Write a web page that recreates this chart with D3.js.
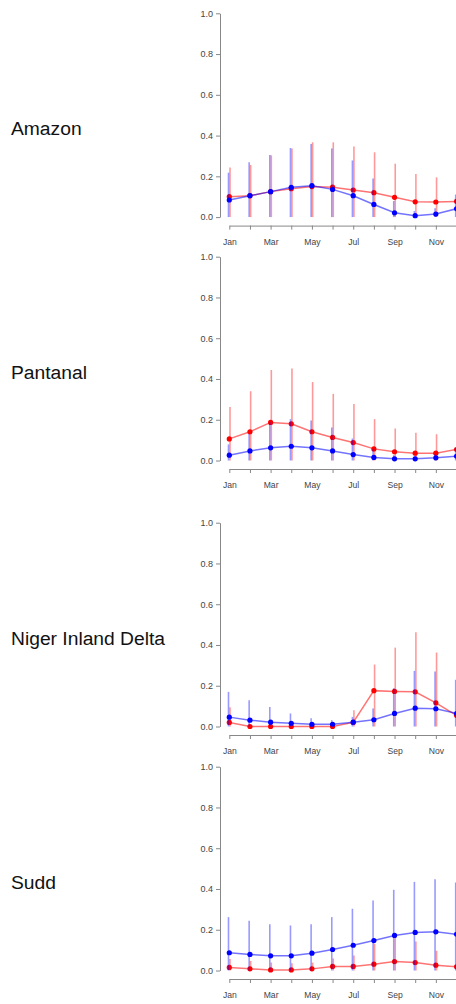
<!DOCTYPE html>
<html>
<head>
<meta charset="utf-8">
<script src="https://cdn.jsdelivr.net/npm/d3@7"></script>
<style>
  body { margin: 0; background: #fff; }
  svg { display: block; font-family: "Liberation Sans", Arial, sans-serif; }
</style>
</head>
<body>
<svg width="456" height="1004"></svg>
<script>
let months = ["Jan", "Feb", "Mar", "Apr", "May", "Jun", "Jul", "Aug", "Sep", "Oct", "Nov", "Dec"];
let monthLabels = ["Jan", "Mar", "May", "Jul", "Sep", "Nov"];
let yTicks = [0, 0.2, 0.4, 0.6, 0.8, 1.0];
let regions = ["Amazon", "Pantanal", "Niger Inland Delta", "Sudd"];

// red series: mean and upper end of the bar (bars start at 0)
let amazonRed = [0.100, 0.105, 0.125, 0.139, 0.150, 0.147, 0.133, 0.120, 0.097, 0.075, 0.074, 0.077];
let amazonRedHi = [0.243, 0.256, 0.303, 0.337, 0.367, 0.367, 0.346, 0.318, 0.262, 0.211, 0.195, 0.205];
let amazonBlue = [0.084, 0.105, 0.125, 0.146, 0.154, 0.136, 0.105, 0.062, 0.021, 0.007, 0.015, 0.041];
let amazonBlueHi = [0.218, 0.269, 0.305, 0.339, 0.359, 0.337, 0.278, 0.190, 0.079, 0.030, 0.043, 0.111];

let pantanalRed = [0.106, 0.141, 0.187, 0.180, 0.141, 0.113, 0.088, 0.057, 0.043, 0.036, 0.036, 0.054];
let pantanalRedHi = [0.263, 0.340, 0.444, 0.452, 0.385, 0.327, 0.277, 0.203, 0.157, 0.136, 0.129, 0.160];
let pantanalBlue = [0.026, 0.047, 0.062, 0.070, 0.062, 0.047, 0.029, 0.015, 0.008, 0.008, 0.013, 0.021];
let pantanalBlueHi = [0.079, 0.131, 0.190, 0.203, 0.196, 0.162, 0.108, 0.057, 0.026, 0.020, 0.031, 0.061];

let nigerRed = [0.020, 0.000, 0.000, 0.000, 0.000, 0.000, 0.020, 0.176, 0.172, 0.170, 0.116, 0.054];
let nigerRedHi = [0.095, 0.004, 0.004, 0.004, 0.004, 0.004, 0.080, 0.304, 0.387, 0.462, 0.363, 0.120];
let nigerBlue = [0.046, 0.031, 0.021, 0.016, 0.011, 0.011, 0.021, 0.033, 0.064, 0.090, 0.087, 0.064];
let nigerBlueHi = [0.170, 0.129, 0.096, 0.064, 0.041, 0.031, 0.047, 0.088, 0.188, 0.273, 0.270, 0.230];

let suddRed = [0.015, 0.008, 0.003, 0.003, 0.008, 0.020, 0.020, 0.031, 0.044, 0.039, 0.026, 0.018];
let suddRedHi = [0.057, 0.047, 0.039, 0.036, 0.039, 0.059, 0.074, 0.131, 0.160, 0.142, 0.097, 0.050];
let suddBlue = [0.087, 0.079, 0.072, 0.072, 0.085, 0.103, 0.124, 0.147, 0.172, 0.187, 0.190, 0.178];
let suddBlueHi = [0.262, 0.244, 0.227, 0.221, 0.227, 0.262, 0.303, 0.344, 0.396, 0.435, 0.448, 0.432];

let panels = [
  { name: regions[0], top: 13.3, red: amazonRed, redHi: amazonRedHi, blue: amazonBlue, blueHi: amazonBlueHi },
  { name: regions[1], top: 256.7, red: pantanalRed, redHi: pantanalRedHi, blue: pantanalBlue, blueHi: pantanalBlueHi },
  { name: regions[2], top: 522.7, red: nigerRed, redHi: nigerRedHi, blue: nigerBlue, blueHi: nigerBlueHi },
  { name: regions[3], top: 766.7, red: suddRed, redHi: suddRedHi, blue: suddBlue, blueHi: suddBlueHi },
];

let svg = d3.select("svg");
let plotH = 203.8;

let x = d3.scalePoint().domain(months).range([229.3, 456.5]);

panels.forEach((p) => {
  let y = d3.scaleLinear().domain([0, 1]).range([p.top + plotH, p.top]);
  let g = svg.append("g");

  // region label
  g.append("text")
    .attr("transform", `translate(11,${y(0) - 88}) scale(1.07,1)`)
    .attr("dy", "0.35em")
    .attr("font-size", 18)
    .attr("fill", "#111")
    .text(p.name);

  // y axis, R style
  let yAxis = g.append("g")
    .attr("transform", "translate(220,0)")
    .call(d3.axisLeft(y).tickValues(yTicks).tickFormat(d3.format(".1f")).tickSize(4).tickSizeOuter(0).tickPadding(3));
  yAxis.select(".domain").attr("stroke", "#888");
  yAxis.selectAll(".tick line").attr("stroke", "#888");
  yAxis.selectAll("text").attr("font-size", 9).attr("fill", "#444").attr("font-family", "Liberation Sans, Arial, sans-serif");

  // x axis
  let xAxis = g.append("g")
    .attr("transform", `translate(0,${y(0) + 8.5})`)
    .call(d3.axisBottom(x).tickSize(4).tickSizeOuter(0).tickPadding(9)
      .tickFormat((d) => (monthLabels.includes(d) ? d : "")));
  xAxis.select(".domain").attr("stroke", "#888");
  xAxis.selectAll(".tick line").attr("stroke", "#888");
  xAxis.selectAll("text").attr("font-size", 8.6).attr("fill", "#444").attr("font-family", "Liberation Sans, Arial, sans-serif");

  let series = [
    { mean: p.red, hi: p.redHi, color: "#ff0000", dx: 0.7 },
    { mean: p.blue, hi: p.blueHi, color: "#0000ff", dx: -0.8 },
  ];

  series.forEach((s) => {
    // error bars
    g.append("g")
      .selectAll("line")
      .data(months)
      .enter()
      .append("line")
      .attr("x1", (d) => x(d) + s.dx)
      .attr("x2", (d) => x(d) + s.dx)
      .attr("y1", y(0))
      .attr("y2", (d, i) => y(s.hi[i]))
      .attr("stroke", s.color)
      .attr("stroke-opacity", 0.4)
      .attr("stroke-width", 1.6);

    let line = d3.line()
      .x((d) => x(d))
      .y((d, i) => y(s.mean[i]));

    g.append("path")
      .datum(months)
      .attr("d", line)
      .attr("fill", "none")
      .attr("stroke", s.color)
      .attr("stroke-opacity", 0.55)
      .attr("stroke-width", 1.5);

    g.append("g")
      .selectAll("circle")
      .data(months)
      .enter()
      .append("circle")
      .attr("cx", (d) => x(d))
      .attr("cy", (d, i) => y(s.mean[i]))
      .attr("r", 2.6)
      .attr("fill", s.color);
  });
});
</script>
</body>
</html>
